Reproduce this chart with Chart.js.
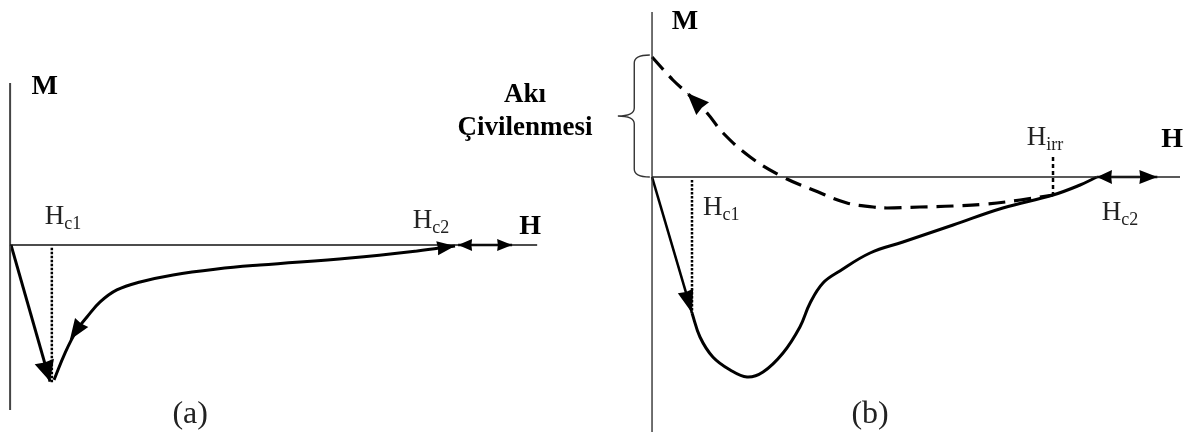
<!DOCTYPE html>
<html>
<head>
<meta charset="utf-8">
<script src="https://cdn.jsdelivr.net/npm/chart.js@4.4.1/dist/chart.umd.min.js"></script>
<style>
    html, body { margin: 0; padding: 0; background: #fff; }
    #wrap { position: relative; width: 1196px; height: 443px; overflow: hidden; }
    #wrap canvas { position: absolute; top: 0; }
    #chartA { left: 0; }
    #chartB { left: 430px; }
</style>
</head>
<body>
<div id="wrap">
    <canvas id="chartA" width="560" height="443"></canvas>
    <canvas id="chartB" width="766" height="443"></canvas>
</div>
<script>
// panel (a) - arbitrary units, H right, M up
const aDescentH = [0, 0.89];
const aDescentM = [0, -9.9];
const aReturnH = [0.98, 1.23, 1.50, 1.73, 2.03, 2.41, 2.94, 3.69, 4.69, 5.67, 7.72, 9.25, 10.11];
const aReturnM = [-9.78, -7.83, -6.16, -5.22, -4.13, -3.26, -2.68, -2.17, -1.74, -1.45, -0.94, -0.43, -0.07];
const aHc1Line = [0.93, 0.93];
const aHc1LineM = [-0.2, -10.0];
const aNormalH = [10.18, 11.41];
const aAxisH = [-0.02, 11.98];
const aAxisM = [11.74, -11.96];

// panel (b)
const bDescentH = [0, 0.90];
const bDescentM = [0, -6.8];
const bSolidH = [0.90, 1.08, 1.37, 1.76, 2.14, 2.50, 2.95, 3.33, 3.56, 3.85, 4.23, 4.91, 5.65, 6.78, 7.90, 9.03, 9.64, 10.02];
const bSolidM = [-6.8, -8.0, -9.0, -9.65, -10.0, -9.75, -8.8, -7.5, -6.3, -5.3, -4.7, -3.8, -3.25, -2.4, -1.55, -0.9, -0.4, 0];
const bDashedH = [0, 0.47, 0.79, 1.24, 1.60, 2.21, 2.95, 3.63, 4.39, 4.98, 5.29, 6.03, 6.78, 7.54, 8.29, 9.03];
const bDashedM = [6.0, 4.85, 4.2, 3.2, 2.2, 1.0, 0, -0.65, -1.3, -1.5, -1.55, -1.5, -1.45, -1.35, -1.15, -0.9];
const bHc1Line = [0.90, 0.90];
const bHc1LineM = [-0.15, -6.8];
const bHirrLine = [9.03, 9.03];
const bHirrLineM = [1.0, -0.9];
const bNormalH = [10.02, 11.38];
const bAxisH = [0, 11.89];
const bAxisM = [8.25, -12.75];
const bPinning = [6.1, 3.05, 0]; // top, tip, bottom of the brace (M)

function pts(h, m) {
    return h.map((v, i) => ({ x: v, y: m[i] }));
}

function line(data, extra) {
    return Object.assign({
        data: data,
        showLine: true,
        borderColor: '#000',
        borderWidth: 3,
        pointRadius: 0,
        fill: false,
        clip: false
    }, extra || {});
}

const serif = "'Liberation Serif', 'DejaVu Serif', serif";

const arrowPlugin = {
    id: 'arrows',
    afterDatasetsDraw(chart, args, opts) {
        const ctx = chart.ctx;
        const xs = chart.scales.x, ys = chart.scales.y;
        (opts.list || []).forEach(a => {
            const tx = xs.getPixelForValue(a.tip[0]), ty = ys.getPixelForValue(a.tip[1]);
            const fx = xs.getPixelForValue(a.from[0]), fy = ys.getPixelForValue(a.from[1]);
            const ang = Math.atan2(ty - fy, tx - fx);
            const len = a.len || 18, half = a.half || 7;
            ctx.save();
            ctx.translate(tx, ty);
            ctx.rotate(ang);
            ctx.beginPath();
            ctx.moveTo(0, 0);
            ctx.lineTo(-len, -half);
            ctx.lineTo(-len * 0.95, 0);
            ctx.lineTo(-len, half);
            ctx.closePath();
            ctx.fillStyle = '#000';
            ctx.fill();
            ctx.restore();
        });
    }
};

const labelPlugin = {
    id: 'labels',
    afterDraw(chart, args, opts) {
        const ctx = chart.ctx;
        const xs = chart.scales.x, ys = chart.scales.y;
        ctx.save();
        (opts.list || []).forEach(l => {
            const x = xs.getPixelForValue(l.at[0]), y = ys.getPixelForValue(l.at[1]);
            ctx.fillStyle = l.color || '#000';
            ctx.font = l.font;
            ctx.textAlign = l.align || 'left';
            ctx.textBaseline = l.baseline || 'alphabetic';
            ctx.fillText(l.text, x, y);
            if (l.sub) {
                const w = ctx.measureText(l.text).width;
                ctx.font = l.subFont;
                ctx.textAlign = 'left';
                ctx.fillText(l.sub, x + w, y + 5);
            }
        });
        ctx.restore();
    }
};

const bracePlugin = {
    id: 'brace',
    afterDraw(chart, args, opts) {
        if (!opts.m) return;
        const ctx = chart.ctx;
        const xs = chart.scales.x, ys = chart.scales.y;
        const xr = xs.getPixelForValue(opts.h[0]);
        const xsp = xs.getPixelForValue(opts.h[1]);
        const xt = xs.getPixelForValue(opts.h[2]);
        const yt = ys.getPixelForValue(opts.m[0]);
        const ym = ys.getPixelForValue(opts.m[1]);
        const yb = ys.getPixelForValue(opts.m[2]);
        const r = 8;
        ctx.save();
        ctx.strokeStyle = '#333';
        ctx.lineWidth = 1.4;
        ctx.beginPath();
        ctx.moveTo(xr, yt);
        ctx.quadraticCurveTo(xsp, yt, xsp, yt + r);
        ctx.lineTo(xsp, ym - r);
        ctx.quadraticCurveTo(xsp, ym, xt, ym);
        ctx.quadraticCurveTo(xsp, ym, xsp, ym + r);
        ctx.lineTo(xsp, yb - r);
        ctx.quadraticCurveTo(xsp, yb, xr, yb);
        ctx.stroke();
        ctx.restore();
    }
};

function baseOptions(xr, yr, arrows, labels, brace) {
    return {
        responsive: false,
        animation: false,
        events: [],
        layout: { padding: 0 },
        plugins: {
            legend: { display: false },
            tooltip: { enabled: false },
            arrows: { list: arrows },
            labels: { list: labels },
            brace: brace || {}
        },
        scales: {
            x: { type: 'linear', min: xr[0], max: xr[1], display: false },
            y: { type: 'linear', min: yr[0], max: yr[1], display: false }
        }
    };
}

const hFont = '27px ' + serif, subFont = '18px ' + serif;
const boldFont = 'bold 28px ' + serif;
const noteFont = 'bold 27px ' + serif;
const panelFont = '32px ' + serif;

new Chart(document.getElementById('chartA'), {
    type: 'scatter',
    data: {
        datasets: [
            line(pts(aAxisH, [0, 0]), { borderWidth: 1.6, borderColor: '#111' }),
            line(pts([aAxisH[0], aAxisH[0]], aAxisM), { borderWidth: 2, borderColor: '#444' }),
            line(pts(aHc1Line, aHc1LineM), { borderWidth: 2.5, borderDash: [2.5, 1.5] }),
            line(pts(aDescentH, aDescentM)),
            line(pts(aReturnH, aReturnM), { tension: 0.4 }),
            line(pts(aNormalH, [0, 0]), { borderWidth: 2.6 })
        ]
    },
    options: baseOptions([-0.25, 12.5], [-14.35, 17.75], [
        { tip: [aDescentH[1], aDescentM[1]], from: [aDescentH[0], aDescentM[0]], len: 21, half: 10 },
        { tip: [1.34, -6.88], from: [1.68, -5.29], len: 21, half: 8 },
        { tip: [aReturnH[12], aReturnM[12]], from: [aReturnH[11], aReturnM[11]], len: 18, half: 7 },
        { tip: [aNormalH[0], 0], from: [aNormalH[1], 0], len: 14, half: 6 },
        { tip: [aNormalH[1], 0], from: [aNormalH[0], 0], len: 15, half: 6 }
    ], [
        { text: 'M', at: [0.77, 11.45], font: boldFont, align: 'center', baseline: 'middle' },
        { text: 'H', sub: 'c1', at: [0.77, 1.52], font: hFont, subFont: subFont, color: '#222' },
        { text: 'H', sub: 'c2', at: [9.15, 1.23], font: hFont, subFont: subFont, color: '#222' },
        { text: 'H', at: [11.82, 1.3], font: boldFont, align: 'center', baseline: 'middle' },
        { text: '(a)', at: [4.08, -12.3], font: panelFont, align: 'center', baseline: 'middle', color: '#222' }
    ]),
    plugins: [arrowPlugin, labelPlugin, bracePlugin]
});

new Chart(document.getElementById('chartB'), {
    type: 'scatter',
    data: {
        datasets: [
            line(pts(bAxisH, [0, 0]), { borderWidth: 1.4, borderColor: '#222' }),
            line(pts([0, 0], bAxisM), { borderWidth: 1.4, borderColor: '#333' }),
            line(pts(bHc1Line, bHc1LineM), { borderWidth: 2.5, borderDash: [2.5, 1.5] }),
            line(pts(bHirrLine, bHirrLineM), { borderWidth: 2.5, borderDash: [4, 3] }),
            line(pts(bDashedH, bDashedM), { borderWidth: 3.2, borderDash: [17, 9], tension: 0.4 }),
            line(pts(bDescentH, bDescentM), { borderWidth: 2.6 }),
            line(pts(bSolidH, bSolidM), { tension: 0.4 }),
            line(pts(bNormalH, [0, 0]), { borderWidth: 2.6 })
        ]
    },
    options: baseOptions([-5, 12.25], [-13.3, 8.85], [
        { tip: [bDescentH[1], bDescentM[1]], from: [bDescentH[0], bDescentM[0]], len: 23, half: 8 },
        { tip: [bDashedH[2], bDashedM[2]], from: [bDashedH[3], bDashedM[3]], len: 22, half: 9 },
        { tip: [bNormalH[0], 0], from: [bNormalH[1], 0], len: 15, half: 7 },
        { tip: [bNormalH[1], 0], from: [bNormalH[0], 0], len: 18, half: 7 }
    ], [
        { text: 'M', at: [0.74, 7.75], font: boldFont, align: 'center', baseline: 'middle' },
        { text: 'Akı', at: [-2.86, 4.1], font: noteFont, align: 'center', baseline: 'middle' },
        { text: 'Çivilenmesi', at: [-2.86, 2.45], font: noteFont, align: 'center', baseline: 'middle' },
        { text: 'H', sub: 'irr', at: [8.44, 1.6], font: hFont, subFont: subFont, color: '#222' },
        { text: 'H', sub: 'c1', at: [1.15, -1.9], font: hFont, subFont: subFont, color: '#222' },
        { text: 'H', sub: 'c2', at: [10.13, -2.15], font: hFont, subFont: subFont, color: '#222' },
        { text: 'H', at: [11.71, 1.85], font: boldFont, align: 'center', baseline: 'middle' },
        { text: '(b)', at: [4.91, -11.9], font: panelFont, align: 'center', baseline: 'middle', color: '#222' }
    ], { h: [-0.05, -0.4, -0.77], m: bPinning }),
    plugins: [arrowPlugin, labelPlugin, bracePlugin]
});
</script>
</body>
</html>
